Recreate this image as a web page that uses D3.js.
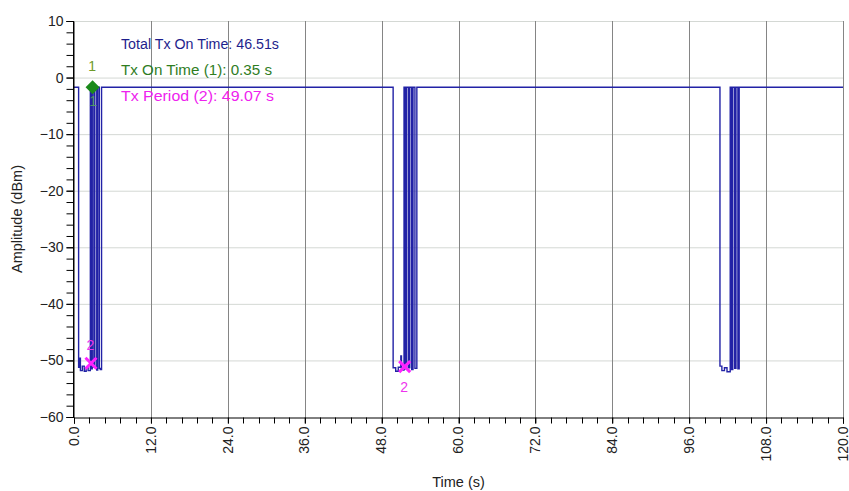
<!DOCTYPE html>
<html><head><meta charset="utf-8">
<script src="https://cdn.jsdelivr.net/npm/d3@7"></script>
<style>body{margin:0;background:#fff}svg{display:block}text{font-family:"Liberation Sans",Arial,sans-serif}</style>
</head><body>
<svg id="c" width="849" height="491"></svg>
<script>
// ---- data ----
const xTicks = [0,12,24,36,48,60,72,84,96,108,120];
const yTicks = [10,0,-10,-20,-30,-40,-50,-60];
const xTickLabels = ["0.0","12.0","24.0","36.0","48.0","60.0","72.0","84.0","96.0","108.0","120.0"];
// trace points [time s, amplitude dBm], held until the next point (step)
const traceTime = [0,0.72,0.9,1.0,1.3,1.6,1.9,2.2,2.55,2.7,2.85,3.1,3.25,3.55,3.7,3.95,4.1,4.3,
  49.8,50.2,50.6,51.0,51.1,51.5,51.7,51.9,52.2,52.4,52.7,52.9,53.2,53.5,
  100.8,101.1,101.5,101.9,102.4,102.6,102.8,103.1,103.3,103.6,103.8,120];
const traceAmp = [-1.7,-51.2,-49.6,-51.8,-51.0,-51.9,-51.3,-51.8,-1.7,-51.5,-1.7,-51.2,-1.7,-51.7,-1.7,-51.4,-51.6,-1.7,
  -51.3,-51.9,-51.2,-49.2,-51.7,-1.7,-51.5,-1.7,-51.3,-1.7,-51.6,-1.7,-51.4,-1.7,
  -51.0,-51.8,-51.3,-52.0,-1.7,-51.6,-1.7,-51.4,-1.7,-51.5,-1.7,-1.7];
const marker1 = {t:2.9, v:-1.7, label:"1"};
const marker2 = [{t:2.65, v:-50.5, label:"2", pos:"above"},{t:51.6, v:-51.1, label:"2", pos:"below"}];
const legendLines = ["Total Tx On Time: 46.51s","Tx On Time (1): 0.35 s","Tx Period (2): 49.07 s"];
const legendColors = ["#1e1e8c","#2f7d1f","#ee22ee"];

// ---- chart ----
const svg = d3.select("#c");
const x = d3.scaleLinear().domain([0,120]).range([74,843]);
const y = d3.scaleLinear().domain([-60,10]).range([417,21]);

// horizontal grid (light)
svg.append("g").selectAll("line").data(yTicks.filter(d=>d>-60)).join("line")
  .attr("x1",x(0)).attr("x2",x(120)).attr("y1",d=>y(d)+0.5).attr("y2",d=>y(d)+0.5)
  .attr("stroke","#d4d8d4").attr("stroke-width",1);
// vertical grid (dark)
svg.append("g").selectAll("line").data(xTicks.filter(d=>d>0)).join("line")
  .attr("x1",d=>Math.round(x(d))+0.5).attr("x2",d=>Math.round(x(d))+0.5).attr("y1",y(10)).attr("y2",y(-60))
  .attr("stroke","#858585").attr("stroke-width",1);

// trace
const pts = traceTime.map((t,i)=>[t,traceAmp[i]]);
svg.append("path").datum(pts)
  .attr("d", d3.line().x(d=>x(d[0])).y(d=>y(d[1])).curve(d3.curveStepAfter))
  .attr("fill","none").attr("stroke","#2222a6").attr("stroke-width",1.4);

// axes
const yAxis = d3.axisLeft(y).tickValues(yTicks).tickSize(7).tickPadding(3).tickFormat(d3.format("d"));
const gy = svg.append("g").attr("transform",`translate(${x(0)-0.5},0)`).call(yAxis);
gy.selectAll("text").attr("font-size",14).attr("fill","#222").attr("font-family","Liberation Sans, Arial");
gy.select(".domain").attr("stroke","#000");
const yMinor = d3.range(-60,10.01,2);
gy.append("g").selectAll("line").data(yMinor).join("line")
  .attr("x1",-7).attr("x2",0).attr("y1",d=>y(d)+0.5).attr("y2",d=>y(d)+0.5).attr("stroke","#000");

const xAxis = d3.axisBottom(x).tickValues(xTicks).tickSize(6).tickFormat((d,i)=>xTickLabels[i]);
const gx = svg.append("g").attr("transform",`translate(0,${y(-60)+0.5})`).call(xAxis);
gx.select(".domain").attr("stroke","#000");
gx.selectAll("text").attr("font-size",14).attr("fill","#222").attr("font-family","Liberation Sans, Arial")
  .attr("transform","rotate(-90)").attr("text-anchor","end").attr("x",-9).attr("y",0).attr("dy","0.3em");
const xMinor = d3.range(0,120.01,2.4);
gx.append("g").selectAll("line").data(xMinor).join("line")
  .attr("x1",d=>Math.round(x(d))+0.5).attr("x2",d=>Math.round(x(d))+0.5).attr("y1",0).attr("y2",6).attr("stroke","#000");
svg.append("line").attr("x1",x(0)-0.5).attr("x2",x(0)-0.5).attr("y1",y(10)).attr("y2",y(-60)+1).attr("stroke","#000");

// axis titles
svg.append("text").attr("x",x(60)).attr("y",487).attr("text-anchor","middle")
  .attr("font-size",14.5).attr("fill","#222").text("Time (s)");
svg.append("text").attr("transform",`translate(22,${y(-25)}) rotate(-90)`).attr("text-anchor","middle")
  .attr("font-size",14.5).attr("fill","#222").text("Amplitude (dBm)");

// marker 1 (diamond)
const mx = x(marker1.t), my = y(marker1.v);
svg.append("text").attr("x",mx+0.5).attr("y",106).attr("text-anchor","middle").attr("font-size",14)
  .attr("fill","#55b055").attr("opacity",0.8).text(marker1.label);
svg.append("path").attr("d",`M${mx},${my-7}L${mx+7},${my}L${mx},${my+7}L${mx-7},${my}Z`).attr("fill","#1b8a1b");
svg.append("text").attr("x",mx-0.5).attr("y",my-16).attr("text-anchor","middle").attr("font-size",14)
  .attr("fill","#6f9a2a").text(marker1.label);

// marker 2 (x marks)
marker2.forEach(m=>{
  const cx=x(m.t), cy=y(m.v), r=5.5;
  svg.append("path").attr("d",`M${cx-r},${cy-r}L${cx+r},${cy+r}M${cx-r},${cy+r}L${cx+r},${cy-r}`)
    .attr("stroke","#ff22ff").attr("stroke-width",3);
  svg.append("text").attr("x",cx-0.5).attr("y",m.pos==="above"?cy-13:cy+25).attr("text-anchor","middle")
    .attr("font-size",14).attr("fill","#ee33ee").text(m.label);
});

// legend
svg.append("g").selectAll("text").data(legendLines).join("text")
  .attr("x",121).attr("y",(d,i)=>49+i*26).attr("font-size",14).attr("fill",(d,i)=>legendColors[i])
  .attr("textLength",(d,i)=>[158,151,153][i]).attr("lengthAdjust","spacingAndGlyphs").text(d=>d);
</script>
</body></html>
